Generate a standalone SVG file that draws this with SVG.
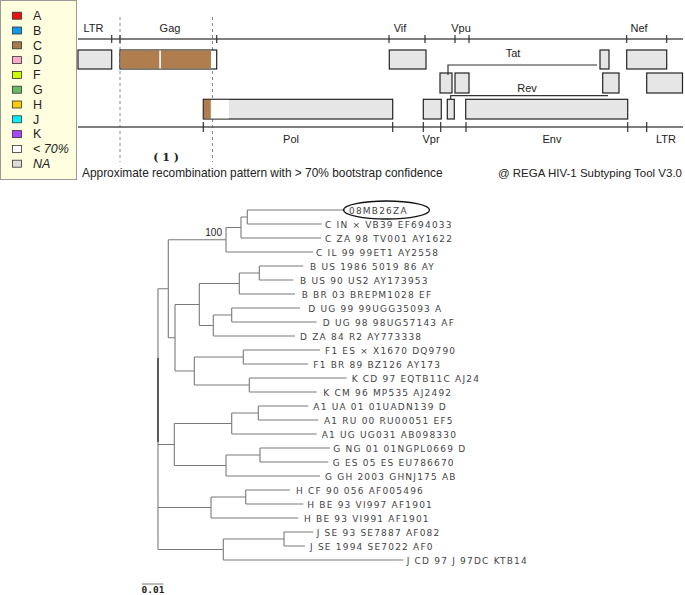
<svg xmlns="http://www.w3.org/2000/svg" width="685" height="595" viewBox="0 0 685 595">
<style>
.lg{font-family:"Liberation Sans",Arial,sans-serif;font-size:12.5px;fill:#222}
.gl{font-family:"Liberation Sans",Arial,sans-serif;font-size:11px;fill:#222;text-anchor:middle}
.ax{stroke:#555;stroke-width:1.3;fill:none}
.tk{stroke:#333;stroke-width:1.2}
.gb{fill:#e6e6e6;stroke:#222;stroke-width:1.2}
.dash{stroke:#888;stroke-width:1;stroke-dasharray:3 3}
.br{stroke:#7a7a7a;stroke-width:1.1;fill:none}
.lf{font-family:"DejaVu Sans",Verdana,sans-serif;font-size:9px;letter-spacing:1.2px;fill:#444}
.sw{stroke:#333;stroke-width:0.8}
</style>
<rect width="685" height="595" fill="#fff"/>
<g id="legend">
<rect x="0.5" y="0.5" width="76" height="179" fill="#ffffe0" stroke="#999"/>
<rect class="sw" x="12.5" y="12.2" width="9" height="7" fill="#ee1111"/><text class="lg" x="33" y="20">A</text>
<rect class="sw" x="12.5" y="27" width="9" height="7" fill="#1199ee"/><text class="lg" x="33" y="34.8">B</text>
<rect class="sw" x="12.5" y="41.8" width="9" height="7" fill="#a87a4f"/><text class="lg" x="33" y="49.6">C</text>
<rect class="sw" x="12.5" y="56.6" width="9" height="7" fill="#ffaacc"/><text class="lg" x="33" y="64.4">D</text>
<rect class="sw" x="12.5" y="71.4" width="9" height="7" fill="#ccff00"/><text class="lg" x="33" y="79.2">F</text>
<rect class="sw" x="12.5" y="86.2" width="9" height="7" fill="#66bb66"/><text class="lg" x="33" y="94">G</text>
<rect class="sw" x="12.5" y="101" width="9" height="7" fill="#ffcc00"/><text class="lg" x="33" y="108.8">H</text>
<rect class="sw" x="12.5" y="115.8" width="9" height="7" fill="#00eeff"/><text class="lg" x="33" y="123.6">J</text>
<rect class="sw" x="12.5" y="130.6" width="9" height="7" fill="#aa44ff"/><text class="lg" x="33" y="138.4">K</text>
<rect class="sw" x="12.5" y="145.4" width="9" height="7" fill="#ffffff"/><text class="lg" x="33" y="153.2" font-style="italic">&lt; 70%</text>
<rect class="sw" x="12.5" y="160.2" width="9" height="7" fill="#dddddd"/><text class="lg" x="33" y="168" font-style="italic">NA</text>
</g>
<g id="genome-map">
<line class="dash" x1="120" y1="17" x2="120" y2="162"/>
<line class="dash" x1="212.5" y1="17" x2="212.5" y2="162"/>
<line class="ax" x1="78" y1="39" x2="683" y2="39"/>
<path class="tk" d="M111.7 35V43M120 35V43M216.7 35V43M389 35V43M425 35V43M455 35V43M469 35V43M626.7 35V43M666.7 35V43"/>
<line class="ax" x1="78" y1="127" x2="683" y2="127"/>
<path class="tk" d="M203.3 122V132M392.7 122V132M423.3 122V132M440.7 122V132M466 122V132M627.7 122V132M646.7 122V132"/>
<text class="gl" x="93.5" y="32">LTR</text>
<text class="gl" x="170" y="32">Gag</text>
<text class="gl" x="400" y="32">Vif</text>
<text class="gl" x="461" y="32">Vpu</text>
<text class="gl" x="639" y="32">Nef</text>
<text class="gl" x="513" y="57">Tat</text>
<text class="gl" x="527" y="91.5">Rev</text>
<text class="gl" x="291" y="143">Pol</text>
<text class="gl" x="431" y="143">Vpr</text>
<text class="gl" x="552" y="143">Env</text>
<text class="gl" x="666" y="143">LTR</text>
<g id="ltr5"><rect class="gb" x="78" y="50" width="33.7" height="19"/></g>
<g id="gag">
<rect x="120" y="50" width="96.7" height="19" fill="#fff" stroke="#222" stroke-width="1.2"/>
<rect x="120.6" y="50.6" width="90.4" height="17.8" fill="#b07e4e"/>
<rect x="159.3" y="50.6" width="1.6" height="17.8" fill="#fff"/>
</g>
<g id="vif"><rect class="gb" x="389.3" y="50" width="36.7" height="19"/></g>
<g id="tat2"><rect class="gb" x="600" y="50" width="9" height="19"/></g>
<g id="nef"><rect class="gb" x="626.7" y="50" width="40" height="19"/></g>
<g id="tat1"><rect class="gb" x="440" y="73" width="12" height="20"/></g>
<g id="rev1"><rect class="gb" x="455" y="73" width="14" height="20"/></g>
<g id="rev2"><rect class="gb" x="602.7" y="73" width="16.3" height="20"/></g>
<g id="ltr3"><rect class="gb" x="646.7" y="73" width="35.8" height="20"/></g>
<g id="pol">
<rect class="gb" x="203.3" y="99.3" width="189.4" height="19.7"/>
<rect x="203.9" y="99.9" width="7" height="18.5" fill="#b07e4e"/>
<rect x="210.9" y="99.9" width="18.1" height="18.5" fill="#fff"/>
</g>
<g id="vpr"><rect class="gb" x="423.3" y="99.3" width="18" height="19.7"/></g>
<g id="vpu"><rect class="gb" x="447.3" y="99.3" width="7" height="19.7"/></g>
<g id="env"><rect class="gb" x="465.7" y="99.3" width="162" height="19.7"/></g>
<path d="M448 75V65H597" fill="none" stroke="#333" stroke-width="1.2"/>
<path d="M450.7 99V95.7H608" fill="none" stroke="#333" stroke-width="1.2"/>
<text x="166" y="161" font-family="'DejaVu Serif',serif" font-size="11" font-weight="bold" text-anchor="middle" fill="#222">( 1 )</text>
<text x="82" y="177" font-family="'Liberation Sans',Arial,sans-serif" font-size="11.9" fill="#222">Approximate recombination pattern with &gt; 70% bootstrap confidence</text>
<text x="682" y="177" font-family="'Liberation Sans',Arial,sans-serif" font-size="11.5" fill="#222" text-anchor="end">@ REGA HIV-1 Subtyping Tool V3.0</text>
</g>
<g id="connectors">
<path class="br" d="M247.3 210V224M241 217H247.3M241 217V238M226 227.5H241M226 227.5V252M168.3 239.75H226"/>
<path class="br" d="M259.3 266V280M239.3 273H259.3M239.3 273V294M199.3 283.5H239.3M231.7 308V322M213.3 315H231.7M213.3 315V336M199.3 325.5H213.3M199.3 283.5V325.5M175 304.5H199.3"/>
<path class="br" d="M243.3 350V364M194.3 357H243.3M249.3 378V392M194.3 385H249.3M194.3 357V385M175 371H194.3M175 304.5V371M168.3 337.75H175M168.3 239.75V337.75M158 288.75H168.3"/>
<path class="br" d="M258.3 406V420M231.7 413H258.3M231.7 413V434M174.3 423.5H231.7M260 448V462M226 455H260M226 455V476M174.3 465.5H226M174.3 423.5V465.5M158 444.5H174.3"/>
<path class="br" d="M245.7 490V504M211 497H245.7M211 497V518M158 507.5H211M284 532V546M223.3 539H284M223.3 539V560M158 549.5H223.3M158 288.75V549.5"/>
<path d="M158 358V442" stroke="#444" stroke-width="1.6"/>
<path class="br" d="M247.3 210H345M247.3 224H321.7M241 238H321M226 252H313M259.3 266H303.3M259.3 280H293.3M239.3 294H295M231.7 308H300M231.7 322H316.7M213.3 336H295M243.3 350H320M243.3 364H308.3M249.3 378H346.7M249.3 392H316.7M258.3 406H308.3M258.3 420H318.3M231.7 434H316.7M260 448H330M260 462H328.3M226 476H320M245.7 490H290M245.7 504H303.3M211 518H298.3M284 532H313.3M284 546H305M223.3 560H403.3"/>
</g>
<g id="tree-leaves">
<g id="leaf-08MB26ZA"><ellipse cx="386.5" cy="210" rx="43" ry="9" fill="none" stroke="#111" stroke-width="1.3"/><text class="lf" x="349" y="213.5">08MB26ZA</text></g>
<g id="leaf-1"><text class="lf" x="325" y="227.5">C IN × VB39 EF694033</text></g>
<g id="leaf-2"><text class="lf" x="325" y="241.5">C ZA 98 TV001 AY1622</text></g>
<g id="leaf-3"><text class="lf" x="316" y="255.5">C IL 99 99ET1 AY2558</text></g>
<g id="leaf-4"><text class="lf" x="310" y="269.5">B US 1986 5019 86 AY</text></g>
<g id="leaf-5"><text class="lf" x="300" y="283.5">B US 90 US2 AY173953</text></g>
<g id="leaf-6"><text class="lf" x="301.7" y="297.5">B BR 03 BREPM1028 EF</text></g>
<g id="leaf-7"><text class="lf" x="308.3" y="311.5">D UG 99 99UGG35093 A</text></g>
<g id="leaf-8"><text class="lf" x="322.7" y="325.5">D UG 98 98UG57143 AF</text></g>
<g id="leaf-9"><text class="lf" x="300" y="339.5">D ZA 84 R2 AY773338</text></g>
<g id="leaf-10"><text class="lf" x="325" y="353.5">F1 ES × X1670 DQ9790</text></g>
<g id="leaf-11"><text class="lf" x="313.3" y="367.5">F1 BR 89 BZ126 AY173</text></g>
<g id="leaf-12"><text class="lf" x="351.7" y="381.5">K CD 97 EQTB11C AJ24</text></g>
<g id="leaf-13"><text class="lf" x="323.3" y="395.5">K CM 96 MP535 AJ2492</text></g>
<g id="leaf-14"><text class="lf" x="313.3" y="409.5">A1 UA 01 01UADN139 D</text></g>
<g id="leaf-15"><text class="lf" x="324" y="423.5">A1 RU 00 RU00051 EF5</text></g>
<g id="leaf-16"><text class="lf" x="321.7" y="437.5">A1 UG UG031 AB098330</text></g>
<g id="leaf-17"><text class="lf" x="333.3" y="451.5">G NG 01 01NGPL0669 D</text></g>
<g id="leaf-18"><text class="lf" x="332.7" y="465.5">G ES 05 ES EU786670</text></g>
<g id="leaf-19"><text class="lf" x="325" y="479.5">G GH 2003 GHNJ175 AB</text></g>
<g id="leaf-20"><text class="lf" x="296" y="493.5">H CF 90 056 AF005496</text></g>
<g id="leaf-21"><text class="lf" x="307.3" y="507.5">H BE 93 VI997 AF1901</text></g>
<g id="leaf-22"><text class="lf" x="304" y="521.5">H BE 93 VI991 AF1901</text></g>
<g id="leaf-23"><text class="lf" x="316.7" y="535.5">J SE 93 SE7887 AF082</text></g>
<g id="leaf-24"><text class="lf" x="310" y="549.5">J SE 1994 SE7022 AF0</text></g>
<g id="leaf-25"><text class="lf" x="406.7" y="563.5">J CD 97 J 97DC KTB14</text></g>
</g>
<text x="222" y="236" font-family="'Liberation Sans',Arial,sans-serif" font-size="10" fill="#222" text-anchor="end">100</text>
<g id="scale">
<line x1="141.7" y1="584" x2="163.3" y2="584" stroke="#555" stroke-width="0.8"/>
<text x="141.5" y="593" font-family="'DejaVu Sans Mono',monospace" font-size="9.5" font-weight="bold" fill="#222">0.01</text>
</g>
</svg>
